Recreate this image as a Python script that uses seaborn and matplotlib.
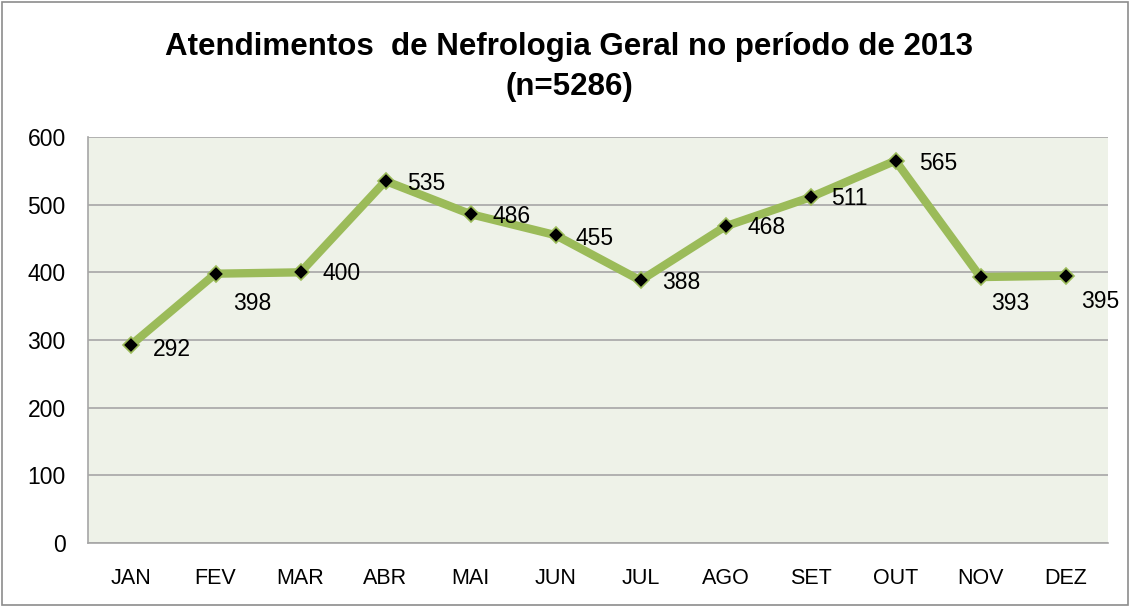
import matplotlib
matplotlib.use("Agg")
import matplotlib.pyplot as plt
import seaborn as sns
import pandas as pd
from matplotlib.patches import Rectangle

months = ["JAN", "FEV", "MAR", "ABR", "MAI", "JUN", "JUL", "AGO", "SET", "OUT", "NOV", "DEZ"]
values = [292, 398, 400, 535, 486, 455, 388, 468, 511, 565, 393, 395]
yticks = [0, 100, 200, 300, 400, 500, 600]
title_line1 = "Atendimentos  de Nefrologia Geral no período de 2013"
title_line2 = "(n=5286)"

# label offsets in pixels (layout only)
label_dx = [22, 18, 22, 22, 22, 20, 22, 22, 21, 24, 11, 16]
label_dy = [-4, -30, -1, -3, -2, -3, -2, -1, -1, -3, -26, -26]

sns.set_theme(style="white")
plt.rcParams['font.family'] = ['Liberation Sans', 'DejaVu Sans']
plt.rcParams['text.color'] = 'black'
plt.rcParams['xtick.color'] = 'black'
plt.rcParams['ytick.color'] = 'black'

df = pd.DataFrame({"mes": months, "valor": values})
df["pos"] = range(len(months))

fig = plt.figure(figsize=(11.3, 6.06), dpi=100)
ax = fig.add_axes([88/1130, 1 - 543/606, (1108-88)/1130, (543-137)/606])
ax.set_facecolor("#eef2e8")

sns.lineplot(data=df, x="pos", y="valor", ax=ax, color="#9bbb59", linewidth=6,
             marker="D", markersize=8.5, markerfacecolor="black",
             markeredgecolor="#9bbb59", markeredgewidth=1.2, zorder=3)

for i, (p, v) in enumerate(zip(df["pos"], df["valor"])):
    ax.annotate(str(v), (p, v), xytext=(label_dx[i], label_dy[i]),
                textcoords="offset pixels", ha="left", va="center",
                fontsize=16.5, color="black", zorder=4)

ax.set_xlim(-0.5, len(months) - 0.5)
ax.set_ylim(0, 600)
ax.set_yticks(yticks)
ax.set_yticklabels([str(t) for t in yticks], fontsize=16.5, color="black")
ax.set_xticks(df["pos"])
ax.set_xticklabels(months, fontsize=15.5, color="black")
ax.tick_params(axis="both", length=0)
ax.tick_params(axis="y", pad=16)
ax.tick_params(axis="x", pad=18)
ax.grid(axis="y", color="#a6a6a6", linewidth=1.2)
ax.set_axisbelow(True)
ax.set_xlabel("")
ax.set_ylabel("")
for s in ["top", "right"]:
    ax.spines[s].set_visible(False)
for s in ["left", "bottom"]:
    ax.spines[s].set_color("#a6a6a6")
    ax.spines[s].set_linewidth(1.2)

fig.text(569/1130, 1 - 47/606, title_line1, ha="center", va="center", fontsize=22.5,
         fontweight="bold", color="black")
fig.text(569/1130, 1 - 87/606, title_line2, ha="center", va="center", fontsize=22.5,
         fontweight="bold", color="black")

fig.patches.append(Rectangle((0.002, 0.002), 0.996, 0.994, transform=fig.transFigure,
                             fill=False, edgecolor="#8c8c8c", linewidth=1.2))

fig.savefig("out.png", dpi=100)
